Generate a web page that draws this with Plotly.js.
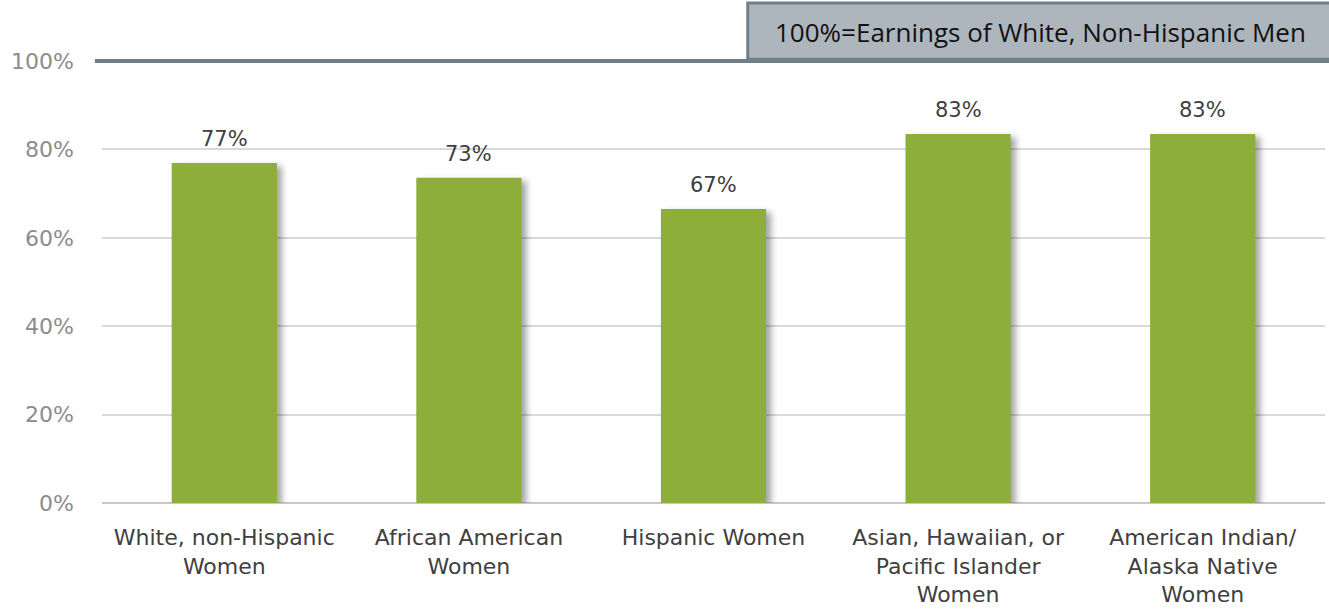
<!DOCTYPE html>
<html>
<head>
<meta charset="utf-8">
<script src="https://cdn.plot.ly/plotly-3.0.1.min.js"></script>
<style>
  body { margin: 0; background: #fff; }
  #chart { width: 1329px; height: 609px; }
  .barlayer .point path { filter: drop-shadow(5px 3px 3px rgba(0,0,0,0.35)); }
</style>
</head>
<body>
<div id="chart"></div>
<script>
// categories and values
const groups = [
  "White, non-Hispanic<br>Women",
  "African American<br>Women",
  "Hispanic Women",
  "Asian, Hawaiian, or<br>Pacific Islander<br>Women",
  "American Indian/<br>Alaska Native<br>Women"
];
const earnings = [76.9, 73.6, 66.5, 83.5, 83.5];
const labels = ["77%", "73%", "67%", "83%", "83%"];
const yTicks = [0, 20, 40, 60, 80, 100];
const noteText = "100%=Earnings of White, Non-Hispanic Men";

const greyLine = "#6E7F8A";

let trace = {
  x: groups,
  y: earnings,
  type: "bar",
  marker: { color: "#8DAF3A" },
  hoverinfo: "skip"
};

// data labels above the bars
let anns = groups.map((g, i) => ({
  x: g, y: earnings[i], text: labels[i],
  showarrow: false, yanchor: "bottom", yshift: 10,
  font: { family: "DejaVu Sans", size: 21, color: "#404040" }
}));

anns.push({
  xref: "paper", yref: "paper", x: 0.767, y: 1.066,
  xanchor: "center", yanchor: "middle",
  text: noteText, showarrow: false,
  font: { family: "Open Sans", size: 26, color: "#111" }
});

let layout = {
  width: 1329, height: 609,
  margin: { l: 102, r: 4, t: 61, b: 106 },
  paper_bgcolor: "#fff", plot_bgcolor: "#fff",
  showlegend: false,
  bargap: 0.57,
  xaxis: {
    tickfont: { family: "DejaVu Sans", size: 22, color: "#404040" },
    ticklabelstandoff: 19,
    ticks: "", showline: false, fixedrange: true
  },
  yaxis: {
    range: [0, 100],
    tickvals: yTicks,
    ticktext: yTicks.map(v => v + "%"),
    tickfont: { family: "DejaVu Sans", size: 22, color: "#8C8C8C" },
    ticklabelstandoff: 27,
    gridcolor: "#D9D9D9", gridwidth: 2,
    zeroline: true, zerolinecolor: "#C8C8C8", zerolinewidth: 2,
    fixedrange: true
  },
  shapes: [
    { type: "line", xref: "paper", yref: "paper", x0: -0.0058, x1: 1.01, y0: 1, y1: 1,
      line: { color: greyLine, width: 4 } },
    { type: "rect", xref: "paper", yref: "paper", x0: 0.528, x1: 1.01, y0: 1.004, y1: 1.131,
      fillcolor: "#AEB6BD", line: { color: greyLine, width: 3 } }
  ],
  annotations: anns
};

Plotly.newPlot("chart", [trace], layout, { displayModeBar: false, staticPlot: true });
</script>
</body>
</html>
